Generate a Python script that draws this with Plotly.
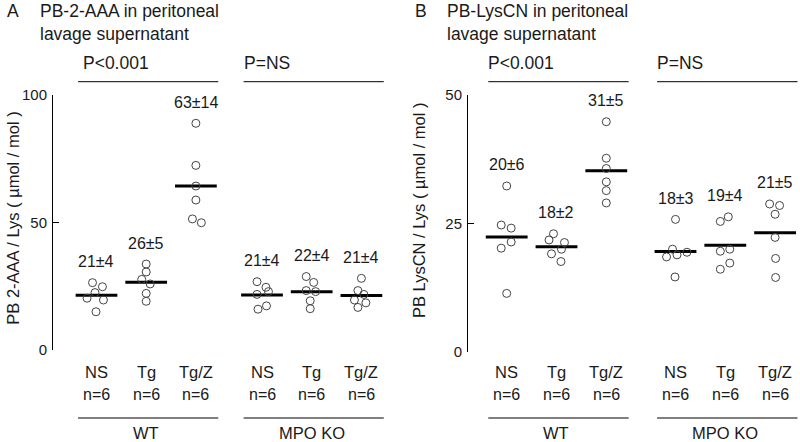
import plotly.graph_objects as go
import numpy as np

W, H = 800, 442

groups = ["NS", "Tg", "Tg/Z"]
genotypes = ["WT", "MPO KO"]
n_labels = ["n=6", "n=6", "n=6", "n=6", "n=6", "n=6"]
p_labels = ["P<0.001", "P=NS"]

# Panel A: PB-2-AAA / Lys (umol/mol)
a_values = [
    [26.4, 24.8, 22.5, 20.3, 19.6, 15.0],
    [33.7, 30.6, 27.7, 25.9, 22.2, 19.1],
    [88.9, 72.4, 64.3, 58.8, 51.4, 49.9],
    [26.8, 24.6, 22.9, 21.8, 17.3, 16.0],
    [28.8, 26.5, 23.3, 22.9, 19.3, 16.2],
    [28.1, 23.3, 21.8, 19.6, 18.5, 16.7],
]
a_jitter = [
    [-0.08, 0.12, -0.03, -0.19, 0.14, -0.01],
    [0.0, 0.0, -0.09, 0.08, 0.0, 0.0],
    [0.0, 0.0, 0.0, 0.0, -0.07, 0.11],
    [-0.10, 0.08, 0.13, -0.10, 0.09, -0.08],
    [-0.11, 0.04, -0.11, 0.08, -0.03, -0.03],
    [0.0, -0.07, 0.05, -0.14, 0.09, -0.07],
]
a_labels = ["21±4", "26±5", "63±14", "21±4", "22±4", "21±4"]

# Panel B: PB-LysCN / Lys (umol/mol)
b_values = [
    [32.3, 24.7, 24.1, 21.4, 20.2, 11.4],
    [23.0, 21.8, 21.3, 20.0, 19.1, 17.6],
    [44.8, 37.7, 35.7, 33.1, 31.4, 29.0],
    [25.8, 20.0, 18.5, 18.9, 19.4, 14.6],
    [25.4, 26.3, 19.6, 20.0, 16.1, 17.3],
    [28.8, 28.5, 26.8, 22.3, 18.2, 14.5],
]
b_jitter = [
    [0.0, -0.11, 0.09, 0.09, -0.11, 0.0],
    [-0.06, -0.15, 0.16, 0.10, -0.10, 0.09],
    [0.0, 0.0, 0.0, 0.0, 0.0, 0.0],
    [0.0, -0.06, -0.18, 0.03, 0.23, -0.01],
    [-0.10, 0.06, -0.10, 0.09, -0.10, 0.09],
    [-0.11, 0.09, 0.0, 0.0, 0.01, 0.01],
]
b_labels = ["20±6", "18±2", "31±5", "18±3", "19±4", "21±5"]

FONT = "Arial, Liberation Sans, sans-serif"
TXT = "#1a1a1a"

def py(px):
    return 1 - px / H

def f(size):
    return dict(size=size, color=TXT, family=FONT)

fig = go.Figure()
annotations = []
shapes = []

panels = [
    dict(vals=a_values, jit=a_jitter, labs=a_labels, gap=3.33, xa="x", ya="y",
         xr=[-0.875, 6.0], xdom=[53 / W, 394.7 / W], ydom=[py(350), py(95)],
         yr=[0, 100], tick=[0, 50, 100],
         letter="A", title1="PB-2-AAA in peritoneal", title2="lavage supernatant",
         lx=6, tx=38.5, ytitle="PB 2-AAA / Lys ( µmol / mol )", ytx=12.7, yty=218,
         pshift=[3, -2]),
    dict(vals=b_values, jit=b_jitter, labs=b_labels, gap=3.39, xa="x2", ya="y2",
         xr=[-0.777, 5.89], xdom=[468 / W, 1.0], ydom=[py(352), py(95)],
         yr=[0, 50], tick=[0, 25, 50],
         letter="B", title1="PB-LysCN in peritoneal", title2="lavage supernatant",
         lx=414, tx=446, ytitle="PB LysCN / Lys ( µmol / mol )", ytx=419, yty=211,
         pshift=[-2, -2]),
]

for p in panels:
    pos = [j + g * p["gap"] for g in range(2) for j in range(3)]
    for k in range(6):
        vals = np.array(p["vals"][k])
        m = vals.mean()
        fig.add_trace(go.Scatter(
            x=[pos[k] - 0.42, pos[k] + 0.42], y=[m, m], mode="lines",
            line=dict(color="black", width=3), xaxis=p["xa"], yaxis=p["ya"],
            showlegend=False, hoverinfo="skip"))
        fig.add_trace(go.Scatter(
            x=[pos[k] + d for d in p["jit"][k]], y=vals, mode="markers",
            marker=dict(symbol="circle-open", size=8, color="#444",
                        line=dict(width=1, color="#444")),
            xaxis=p["xa"], yaxis=p["ya"], showlegend=False))
        annotations.append(dict(
            x=pos[k], y=vals.max(), xref=p["xa"], yref=p["ya"], yshift=21,
            text=p["labs"][k], showarrow=False, yanchor="middle", font=f(16)))
        annotations.append(dict(
            x=pos[k], y=py(371.7), xref=p["xa"], yref="paper",
            text=groups[k % 3], showarrow=False, yanchor="middle", font=f(16.5)))
        annotations.append(dict(
            x=pos[k], y=py(394), xref=p["xa"], yref="paper",
            text=n_labels[k], showarrow=False, yanchor="middle", font=f(16)))
    for g in range(2):
        x0 = pos[3 * g] - 0.37
        x1 = pos[3 * g + 2] + 0.45
        for ypx in (81.7, 418):
            shapes.append(dict(type="line", xref=p["xa"], yref="paper",
                               x0=x0, x1=x1, y0=py(ypx), y1=py(ypx),
                               line=dict(color="black", width=1)))
        annotations.append(dict(
            x=x0, y=py(63.3), xref=p["xa"], yref="paper", xanchor="left",
            xshift=p["pshift"][g], text=p_labels[g], showarrow=False,
            yanchor="middle", font=f(17.5)))
        annotations.append(dict(
            x=pos[3 * g + 1], y=py(433), xref=p["xa"], yref="paper",
            text=genotypes[g], showarrow=False, yanchor="middle", font=f(16.5)))
    annotations.append(dict(x=p["lx"] / W, y=1.0, xref="paper", yref="paper",
                            xanchor="left", yanchor="top", borderpad=0, text=p["letter"],
                            showarrow=False, font=f(17.5)))
    annotations.append(dict(x=p["tx"] / W, y=1.0, xref="paper", yref="paper",
                            xanchor="left", yanchor="top", align="left", borderpad=0,
                            text=p["title1"] + "<br>" + p["title2"],
                            showarrow=False, font=f(17.5)))
    annotations.append(dict(x=p["ytx"] / W, y=py(p["yty"]), xref="paper", yref="paper",
                            xanchor="center", yanchor="middle", textangle=-90,
                            text=p["ytitle"], showarrow=False, font=f(16.5)))

xaxis_common = dict(showgrid=False, zeroline=False, showline=False, showticklabels=False,
                    ticks="", fixedrange=True)
yaxis_common = dict(showgrid=False, zeroline=False, showline=True, linecolor="black",
                    linewidth=1, ticks="inside", ticklen=6, tickcolor="black",
                    tickfont=f(15), ticklabelstandoff=2)

fig.update_layout(
    width=W, height=H, margin=dict(l=0, r=0, t=0, b=0, autoexpand=False),
    paper_bgcolor="white", plot_bgcolor="white",
    xaxis=dict(domain=panels[0]["xdom"], range=panels[0]["xr"], anchor="y", **xaxis_common),
    yaxis=dict(domain=panels[0]["ydom"], range=panels[0]["yr"], anchor="x",
               tickvals=panels[0]["tick"], **yaxis_common),
    xaxis2=dict(domain=panels[1]["xdom"], range=panels[1]["xr"], anchor="y2", **xaxis_common),
    yaxis2=dict(domain=panels[1]["ydom"], range=panels[1]["yr"], anchor="x2",
                tickvals=panels[1]["tick"], **yaxis_common),
    annotations=annotations, shapes=shapes, showlegend=False,
)

fig.write_html(
    "out.html",
    config={"displayModeBar": False},
    post_script="document.body.style.margin='0';document.body.style.padding='0';"
                "document.body.style.overflow='hidden';",
)
